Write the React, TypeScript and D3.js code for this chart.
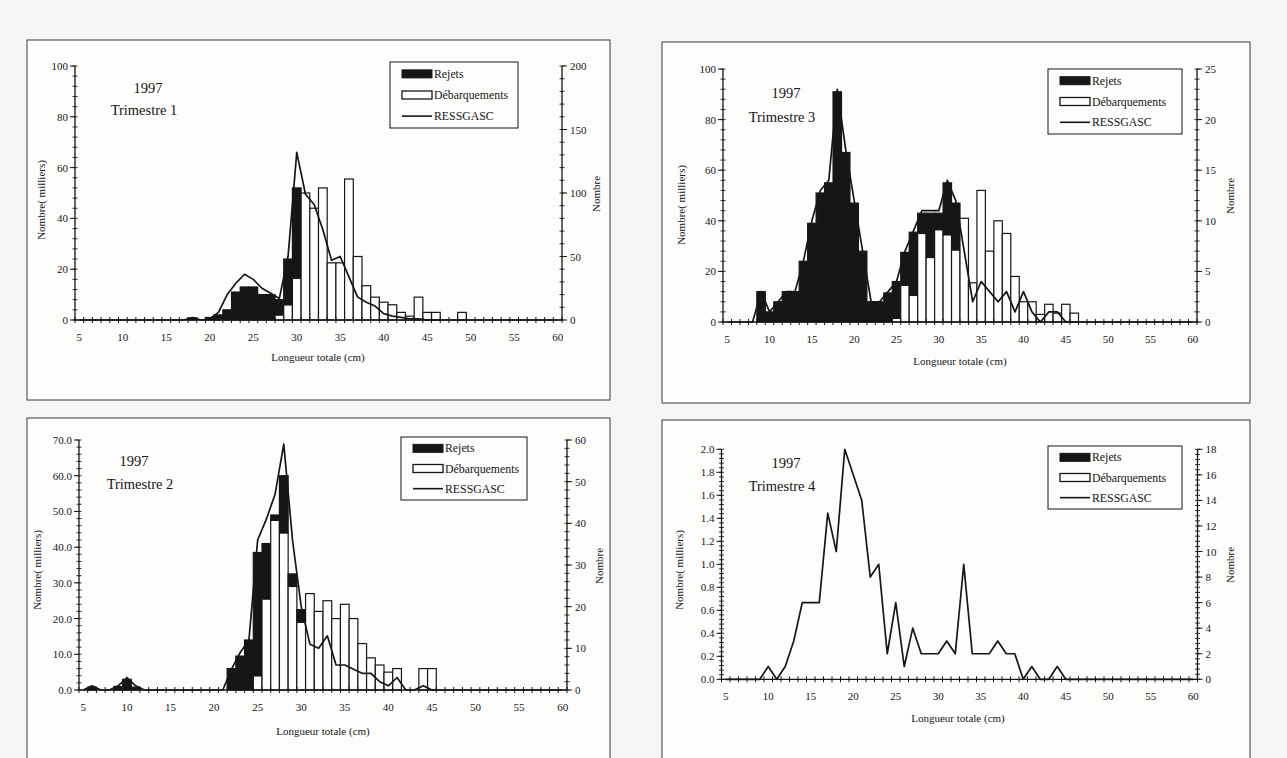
import React from 'react';
import * as d3 from 'd3';

// Length classes (cm)
const LENGTHS = [5,6,7,8,9,10,11,12,13,14,15,16,17,18,19,20,21,22,23,24,25,26,27,28,29,30,31,32,33,34,35,36,37,38,39,40,41,42,43,44,45,46,47,48,49,50,51,52,53,54,55,56,57,58,59,60];
const X_TICK_LABELS = [5,10,15,20,25,30,35,40,45,50,55,60];

// ---- Trimestre 1 (left axis: milliers, right axis: Nombre)
const T1_REJETS = [
  0,0,0,0,0,0,0,0,0,0,
  0,0,0,0.8,0,1,2,4,11,13,
  13,10,10,6,18,35.5,0,0,0,0,
  0,0,0,0,0,0,0,0,0,0,
  0,0,0,0,0,0,0,0,0,0,
  0,0,0,0,0,0];
const T1_DEBARQ = [
  0,0,0,0,0,0,0,0,0,0,
  0,0,0,0,0,0,0,0,0,0,
  0,0,0,2,6,16.5,50,44,52,22.5,
  22.5,55.5,25,13.5,9,7,6,3,1.5,9,
  3,3,0,0,3,0,0,0,0,0,
  0,0,0,0,0,0];
const T1_RESSGASC = [
  0,0,0,0,0,0,0,0,0,0,
  0,0,0,2,0,1,6,20,29,36,
  32,25,21,17,50,132,99,91,71,47,
  50,34,18,14,11,5,3,2,1,1,
  0,0,0,0,0,0,0,0,0,0,
  0,0,0,0,0,0];
const T1_LEFT_TICKS = [0,20,40,60,80,100];
const T1_RIGHT_TICKS = [0,50,100,150,200];

// ---- Trimestre 3
const T3_REJETS = [
  0,0,0,0,12,4,8,12,12,24,
  39,51,55,91,67,47,28,8,8,11.5,
  14.5,13,25,8,17.5,6.5,20.5,18.5,0,0,
  0,0,0,0,0,0,0,0,0,0,
  0,0,0,0,0,0,0,0,0,0,
  0,0,0,0,0,0];
const T3_DEBARQ = [
  0,0,0,0,0,0,0,0,0,0,
  0,0,0,0,0,0,0,0,0,0,
  1.5,14.5,10.5,35,25.5,36.5,34.5,28.5,41,15.5,
  52,28,40,35,18,8,8,3,7,3.5,
  7,3.5,0,0,0,0,0,0,0,0,
  0,0,0,0,0,0];
const T3_RESSGASC = [
  0,0,0,0,3,1,2,3,3,6,
  10,13,14,23,17,12,7,2,2,3,
  4,7,9,11,11,11,14,12,7,2,
  4,3,2,3,1,3,1,0,1,1,
  0,0,0,0,0,0,0,0,0,0,
  0,0,0,0,0,0];
const T3_LEFT_TICKS = [0,20,40,60,80,100];
const T3_RIGHT_TICKS = [0,5,10,15,20,25];

// ---- Trimestre 2
const T2_REJETS = [
  0,0.8,0,0,1,3,0.8,0,0,0,
  0,0,0,0,0,0,0,6,9.5,14,
  34.5,15.5,1.5,16,3.5,3.5,0,0,0,0,
  0,0,0,0,0,0,0,0,0,0,
  0,0,0,0,0,0,0,0,0,0,
  0,0,0,0,0,0];
const T2_DEBARQ = [
  0,0,0,0,0,0,0,0,0,0,
  0,0,0,0,0,0,0,0,0,0,
  4,25.5,47.5,44,29,19,27,22,25,20,
  24,20,13,9,7,5,6,0,0,6,
  6,0,0,0,0,0,0,0,0,0,
  0,0,0,0,0,0];
const T2_RESSGASC = [
  0,1,0,0,1,3,1,0,0,0,
  0,0,0,0,0,0,0,5,9,12,
  36,41,47,59,36,20,11,10,13,6,
  6,5,4,4,2,1,3,0,0,1,
  0,0,0,0,0,0,0,0,0,0,
  0,0,0,0,0,0];
const T2_LEFT_TICKS = [0,10,20,30,40,50,60,70];
const T2_RIGHT_TICKS = [0,10,20,30,40,50,60];

// ---- Trimestre 4
const T4_REJETS: number[] = [];
const T4_DEBARQ: number[] = [];
const T4_RESSGASC = [
  0,0,0,0,0,1,0,1,3,6,
  6,6,13,10,18,16,14,8,9,2,
  6,1,4,2,2,2,3,2,9,2,
  2,2,3,2,2,0,1,0,0,1,
  0,0,0,0,0,0,0,0,0,0,
  0,0,0,0,0,0];
const T4_LEFT_TICKS = [0,0.2,0.4,0.6,0.8,1.0,1.2,1.4,1.6,1.8,2.0];
const T4_RIGHT_TICKS = [0,2,4,6,8,10,12,14,16,18];

const FONT = '"Liberation Serif", "DejaVu Serif", serif';
const INK = '#161616';

type Cfg = {
  frame: { x: number; y: number; w: number; h: number };
  x0: number; x1: number; yTop: number; yBase: number;
  leftTicks: number[]; leftFmt: (v: number) => string;
  rightTicks: number[];
  rejets: number[]; debarq: number[]; ressgasc: number[];
  trim: string;
  yearPos: [number, number]; trimPos: [number, number];
  legend: { x: number; y: number; w: number; h: number };
  yLabelPos: [number, number]; xLabelPos: [number, number]; rLabelPos: [number, number];
};

const PANELS: Cfg[] = [
  {
    frame: { x: 27, y: 40, w: 583, h: 360 },
    x0: 75, x1: 562, yTop: 66, yBase: 320,
    leftTicks: T1_LEFT_TICKS, leftFmt: (v) => d3.format('d')(v),
    rightTicks: T1_RIGHT_TICKS,
    rejets: T1_REJETS, debarq: T1_DEBARQ, ressgasc: T1_RESSGASC,
    trim: 'Trimestre 1', yearPos: [148, 88], trimPos: [144, 110],
    legend: { x: 390, y: 62, w: 128, h: 66 },
    yLabelPos: [42, 200], xLabelPos: [318, 357], rLabelPos: [597, 194],
  },
  {
    frame: { x: 662, y: 42, w: 588, h: 361 },
    x0: 723, x1: 1197, yTop: 69, yBase: 322,
    leftTicks: T3_LEFT_TICKS, leftFmt: (v) => d3.format('d')(v),
    rightTicks: T3_RIGHT_TICKS,
    rejets: T3_REJETS, debarq: T3_DEBARQ, ressgasc: T3_RESSGASC,
    trim: 'Trimestre 3', yearPos: [786, 93], trimPos: [782, 117],
    legend: { x: 1048, y: 69, w: 134, h: 65 },
    yLabelPos: [682, 205], xLabelPos: [960, 361], rLabelPos: [1231, 196],
  },
  {
    frame: { x: 27, y: 418, w: 583, h: 345 },
    x0: 79, x1: 567, yTop: 440, yBase: 690,
    leftTicks: T2_LEFT_TICKS, leftFmt: (v) => d3.format('.1f')(v),
    rightTicks: T2_RIGHT_TICKS,
    rejets: T2_REJETS, debarq: T2_DEBARQ, ressgasc: T2_RESSGASC,
    trim: 'Trimestre 2', yearPos: [134, 461], trimPos: [140, 484],
    legend: { x: 401, y: 437, w: 126, h: 63 },
    yLabelPos: [38, 570], xLabelPos: [323, 731], rLabelPos: [600, 566],
  },
  {
    frame: { x: 662, y: 420, w: 588, h: 345 },
    x0: 721.5, x1: 1197.5, yTop: 449.3, yBase: 679.3,
    leftTicks: T4_LEFT_TICKS, leftFmt: (v) => d3.format('.1f')(v),
    rightTicks: T4_RIGHT_TICKS,
    rejets: T4_REJETS, debarq: T4_DEBARQ, ressgasc: T4_RESSGASC,
    trim: 'Trimestre 4', yearPos: [786, 463], trimPos: [782, 486],
    legend: { x: 1048, y: 446, w: 134, h: 63 },
    yLabelPos: [680, 570], xLabelPos: [958, 718], rLabelPos: [1231, 565],
  },
];

function Panel({ cfg }: { cfg: Cfg }) {
  const x = d3.scaleBand<number>().domain(LENGTHS).range([cfg.x0, cfg.x1]).padding(0);
  const bw = x.bandwidth();
  const leftMax = cfg.leftTicks[cfg.leftTicks.length - 1];
  const rightMax = cfg.rightTicks[cfg.rightTicks.length - 1];
  const yL = d3.scaleLinear().domain([0, leftMax]).range([cfg.yBase, cfg.yTop]);
  const yR = d3.scaleLinear().domain([0, rightMax]).range([cfg.yBase, cfg.yTop]);
  const lStep = cfg.leftTicks[1] - cfg.leftTicks[0];
  const rStep = cfg.rightTicks[1] - cfg.rightTicks[0];
  const lMinor = d3.range(0, leftMax + 1e-9, lStep / 5);
  const rMinor = d3.range(0, rightMax + 1e-9, rStep / 5);
  const boundaries = LENGTHS.map((c) => x(c)!).concat([cfg.x1]);

  const line = d3.line<number>()
    .x((_, i) => x(LENGTHS[i])! + bw / 2)
    .y((v) => yR(v));

  const bars: React.ReactNode[] = [];
  LENGTHS.forEach((c, i) => {
    const deb = cfg.debarq[i] || 0;
    const rej = cfg.rejets[i] || 0;
    const bx = x(c)!;
    if (deb > 0) {
      bars.push(<rect key={'d' + c} x={bx} y={yL(deb)} width={bw} height={yL(0) - yL(deb)}
        fill="#fff" stroke={INK} strokeWidth={1.2} />);
    }
    if (rej > 0) {
      bars.push(<rect key={'r' + c} x={bx} y={yL(deb + rej)} width={bw} height={yL(deb) - yL(deb + rej)}
        fill={INK} stroke={INK} strokeWidth={1.2} />);
    }
  });

  const lg = cfg.legend;
  const rows = [lg.y + lg.h * 0.18, lg.y + lg.h * 0.5, lg.y + lg.h * 0.82];
  const TICK_FS = 11;
  const LEG_FS = 11.8;

  return (
    <g>
      <rect x={cfg.frame.x} y={cfg.frame.y} width={cfg.frame.w} height={cfg.frame.h}
        fill="#fdfdfc" stroke="#3a3a3a" strokeWidth={1} />
      {bars}
      <path d={line(cfg.ressgasc) || ''} fill="none" stroke={INK} strokeWidth={1.7} strokeLinejoin="round" />

      {/* x axis */}
      <line x1={cfg.x0} x2={cfg.x1} y1={cfg.yBase} y2={cfg.yBase} stroke={INK} strokeWidth={1.3} />
      {boundaries.map((bx, i) => (
        <line key={'xt' + i} x1={bx} x2={bx} y1={cfg.yBase - 3} y2={cfg.yBase + 3} stroke={INK} strokeWidth={1} />
      ))}
      {X_TICK_LABELS.map((c) => (
        <text key={'xl' + c} x={x(c)! + bw / 2} y={cfg.yBase + 21} textAnchor="middle"
          fontFamily={FONT} fontSize={TICK_FS} fill={INK}>{c}</text>
      ))}

      {/* left axis */}
      <line x1={cfg.x0} x2={cfg.x0} y1={cfg.yTop} y2={cfg.yBase} stroke={INK} strokeWidth={1.3} />
      {lMinor.map((v, i) => (
        <line key={'lm' + i} x1={cfg.x0 - 2.5} x2={cfg.x0 + 2.5} y1={yL(v)} y2={yL(v)} stroke={INK} strokeWidth={0.9} />
      ))}
      {cfg.leftTicks.map((v) => (
        <g key={'lt' + v}>
          <line x1={cfg.x0 - 5} x2={cfg.x0} y1={yL(v)} y2={yL(v)} stroke={INK} strokeWidth={1} />
          <text x={cfg.x0 - 7} y={yL(v) + 4} textAnchor="end" fontFamily={FONT} fontSize={TICK_FS} fill={INK}>
            {cfg.leftFmt(v)}
          </text>
        </g>
      ))}

      {/* right axis */}
      <line x1={cfg.x1} x2={cfg.x1} y1={cfg.yTop} y2={cfg.yBase} stroke={INK} strokeWidth={1.3} />
      {rMinor.map((v, i) => (
        <line key={'rm' + i} x1={cfg.x1 - 2.5} x2={cfg.x1 + 2.5} y1={yR(v)} y2={yR(v)} stroke={INK} strokeWidth={0.9} />
      ))}
      {cfg.rightTicks.map((v) => (
        <g key={'rt' + v}>
          <line x1={cfg.x1} x2={cfg.x1 + 5} y1={yR(v)} y2={yR(v)} stroke={INK} strokeWidth={1} />
          <text x={cfg.x1 + 8} y={yR(v) + 4} textAnchor="start" fontFamily={FONT} fontSize={TICK_FS} fill={INK}>
            {v}
          </text>
        </g>
      ))}

      {/* titles */}
      <text x={cfg.yearPos[0]} y={cfg.yearPos[1] + 5} textAnchor="middle" fontFamily={FONT} fontSize={14.5} fill={INK}>1997</text>
      <text x={cfg.trimPos[0]} y={cfg.trimPos[1] + 5} textAnchor="middle" fontFamily={FONT} fontSize={14.5} fill={INK}>{cfg.trim}</text>
      <text transform={`translate(${cfg.yLabelPos[0]},${cfg.yLabelPos[1]}) rotate(-90)`} textAnchor="middle"
        dominantBaseline="middle" fontFamily={FONT} fontSize={11} fill={INK}>Nombre( milliers)</text>
      <text x={cfg.xLabelPos[0]} y={cfg.xLabelPos[1] + 4} textAnchor="middle" fontFamily={FONT} fontSize={11} fill={INK}>Longueur totale (cm)</text>
      <text transform={`translate(${cfg.rLabelPos[0]},${cfg.rLabelPos[1]}) rotate(-90)`} textAnchor="middle"
        dominantBaseline="middle" fontFamily={FONT} fontSize={11} fill={INK}>Nombre</text>

      {/* legend */}
      <rect x={lg.x} y={lg.y} width={lg.w} height={lg.h} fill="#fdfdfc" stroke={INK} strokeWidth={1} />
      <rect x={lg.x + 12} y={rows[0] - 4} width={30} height={8} fill={INK} stroke={INK} strokeWidth={1} />
      <text x={lg.x + 44} y={rows[0] + 4} fontFamily={FONT} fontSize={LEG_FS} fill={INK}>Rejets</text>
      <rect x={lg.x + 12} y={rows[1] - 4} width={30} height={8} fill="#fff" stroke={INK} strokeWidth={1.3} />
      <text x={lg.x + 44} y={rows[1] + 4} fontFamily={FONT} fontSize={LEG_FS} fill={INK}>Débarquements</text>
      <line x1={lg.x + 12} x2={lg.x + 42} y1={rows[2]} y2={rows[2]} stroke={INK} strokeWidth={1.6} />
      <text x={lg.x + 44} y={rows[2] + 4} fontFamily={FONT} fontSize={LEG_FS} fill={INK}>RESSGASC</text>
    </g>
  );
}

export default function App() {
  return (
    <svg width={1287} height={758} viewBox="0 0 1287 758"
      style={{ position: 'absolute', left: 0, top: 0, background: '#f6f6f4' }}>
      <rect x={0} y={0} width={1287} height={758} fill="#f6f6f4" />
      {PANELS.map((p, i) => <Panel key={i} cfg={p} />)}
    </svg>
  );
}
